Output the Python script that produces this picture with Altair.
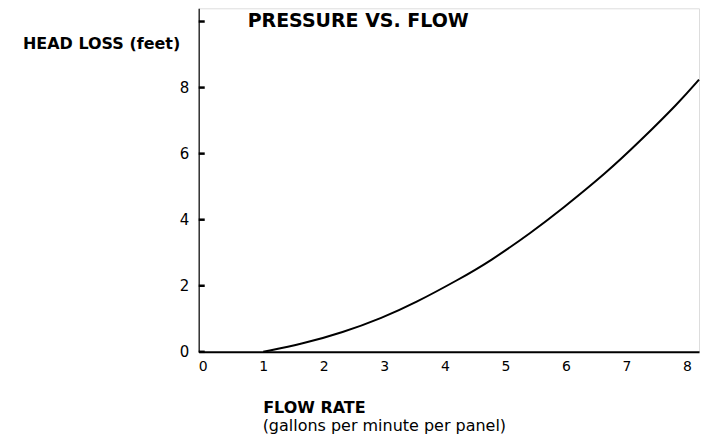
import altair as alt
import pandas as pd

# Data
flow = [1.0, 1.65, 2.31, 2.97, 3.5, 4.24, 4.74, 5.45, 5.92, 6.67, 7.21, 7.87, 8.2]
head_loss = [0.0, 0.24, 0.58, 1.03, 1.47, 2.2, 2.73, 3.64, 4.3, 5.42, 6.35, 7.55, 8.24]
y_ticks = [0, 2, 4, 6, 8, 10]
x_ticks = [0, 1, 2, 3, 4, 5, 6, 7, 8]

title_text = "PRESSURE VS. FLOW"
y_title = "HEAD LOSS (feet)"
x_title = "FLOW RATE"
x_subtitle = "(gallons per minute per panel)"

df = pd.DataFrame({"flow": flow, "head": head_loss})
ticks_df = pd.DataFrame({"t": y_ticks})

W, H = 501, 344
FONT = "DejaVu Sans"

xscale = alt.Scale(domain=[-0.066, 8.2], nice=False, zero=False)
yscale = alt.Scale(domain=[0, 10.4], nice=False)

line = alt.Chart(df).mark_line(color="black", strokeWidth=2, interpolate="basis").encode(
    x=alt.X("flow:Q", scale=xscale,
            axis=alt.Axis(values=x_ticks, tickSize=0, labelPadding=8, labelFontSize=14,
                          labelFont=FONT, labelColor="black", domainColor="black",
                          domainWidth=2, grid=False, title=x_title,
                          titleFont=FONT, titleFontSize=16, titleFontWeight="bold",
                          titleColor="black", titleAlign="left", titleAnchor="start",
                          titleX=64, titleY=56, titleBaseline="middle")),
    y=alt.Y("head:Q", scale=yscale,
            axis=alt.Axis(values=y_ticks, tickSize=0, labelPadding=10, labelFontSize=15,
                          labelFont=FONT, labelColor="black", domainColor="#333333",
                          domainWidth=1.5, grid=False,
                          labelExpr="datum.value == 10 ? '' : datum.label",
                          title=y_title, titleAngle=0, titleFont=FONT, titleFontSize=16,
                          titleFontWeight="bold", titleColor="black", titleAlign="right",
                          titleX=-19, titleY=35, titleBaseline="middle")),
)

tick_marks = alt.Chart(ticks_df).mark_rule(color="black", strokeWidth=2.5).encode(
    y=alt.Y("t:Q", scale=yscale),
    x=alt.value(0),
    x2=alt.value(6),
)

title_mark = alt.Chart(pd.DataFrame({"t": [title_text]})).mark_text(
    align="left", baseline="middle", font=FONT, fontSize=19, fontWeight="bold", color="black"
).encode(text="t:N", x=alt.value(49), y=alt.value(13))

subtitle_mark = alt.Chart(pd.DataFrame({"t": [x_subtitle]})).mark_text(
    align="left", baseline="middle", font=FONT, fontSize=16, color="black"
).encode(text="t:N", x=alt.value(64), y=alt.value(418))

chart = alt.layer(line, tick_marks, title_mark, subtitle_mark).properties(
    width=W, height=H,
    autosize=alt.AutoSizeParams(type="none"),
    padding={"left": 191, "top": 0, "right": 10, "bottom": 84},
).configure_view(stroke=None).configure(background="white")

chart.save("out.html", embed_options={"renderer": "svg", "actions": False})
